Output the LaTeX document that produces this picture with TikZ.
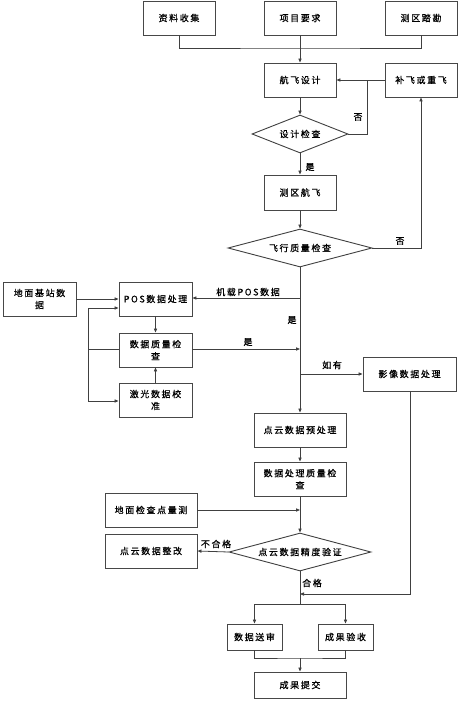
\documentclass[tikz,border=0pt]{standalone}
\usepackage{fontspec}
\newfontfamily\cjk[LetterSpace=18,FakeBold=0.6]{Noto Sans CJK SC}
\usetikzlibrary{shapes.geometric,arrows.meta,shadows}
\tikzset{
  box/.style={draw=black!72,line width=0.9pt,minimum width=72pt,minimum height=34pt,inner sep=0pt,align=center,font=\cjk\fontsize{9}{12}\selectfont,fill=white,
    drop shadow={shadow xshift=0.7pt,shadow yshift=-0.7pt,fill=black!65,opacity=1}},
  dia/.style={draw=black!75,line width=0.9pt,diamond,aspect=3.6,inner sep=0pt,minimum height=38pt,font=\cjk\fontsize{9}{12}\selectfont,fill=white},
  conn/.style={draw=black!75,line width=0.8pt},
  arr/.style={conn,-{Triangle[length=4pt,width=3.2pt]}},
  lab/.style={font=\cjk\fontsize{9}{11}\selectfont,inner sep=0pt}
}
\begin{document}
\begin{tikzpicture}[x=1pt,y=-1pt]
\useasboundingbox (0,0) rectangle (462,703);
% nodes
\node[box] (zl) at (179,18) {资料收集};
\node[box] (xm) at (300,18) {项目要求};
\node[box] (ck) at (421,18) {测区踏勘};
\node[box] (hs) at (300,80) {航飞设计};
\node[box] (bf) at (421,80) {补飞或重飞};
\node[dia,minimum width=96pt] (sj) at (300,134) {设计检查};
\node[box,minimum height=35pt] (cq) at (300,192.5) {测区航飞};
\node[dia,minimum width=144pt] (fx) at (300,248) {飞行质量检查};
\node[box,minimum width=73pt] (jz) at (39.5,299) {地面基站数\\据};
\node[box,minimum width=73pt] (pos) at (155.5,299) {POS数据处理};
\node[box,minimum width=73pt] (zj) at (155.5,350) {数据质量检\\查};
\node[box,minimum width=73pt] (jg) at (155.5,400) {激光数据校\\准};
\node[box,minimum width=93pt] (yx) at (409.5,374) {影像数据处理};
\node[box,minimum width=92pt] (dy) at (300,430) {点云数据预处理};
\node[box,minimum width=92pt] (cl) at (300,479) {数据处理质量检\\查};
\node[box,minimum width=92pt] (dm) at (151,510) {地面检查点量测};
\node[box,minimum width=92pt] (zg) at (151,551) {点云数据整改};
\node[dia,minimum width=142pt] (js) at (300,552) {点云数据精度验证};
\node[box,minimum width=55pt,minimum height=26pt] (ss) at (254.5,637) {数据送审};
\node[box,minimum width=55pt,minimum height=26pt] (ys) at (345.5,637) {成果验收};
\node[box,minimum width=92pt,minimum height=26pt] (tj) at (300,685) {成果提交};
% coordinates
\coordinate (top) at (300,48);
\coordinate (j1) at (367,80);
\coordinate (p1) at (300,298);
\coordinate (p2) at (300,349);
\coordinate (p3) at (300,374);
\coordinate (l1) at (88,308);
\coordinate (l2) at (88,349);
\coordinate (l3) at (88,401);
\coordinate (yb) at (410,594);
\coordinate (m1) at (300,594);
\coordinate (sp) at (300,604);
\coordinate (mg) at (300,658);
\coordinate (gd) at (300,510);
% connectors
\draw[conn] (zl.south) |- (top) -| (ck.south);
\draw[arr] (xm.south) -- (hs.north);
\draw[arr] (bf.west) -- (hs.east);
\draw[conn] (sj.east) -| (j1);
\node[lab] at (358,117) {否};
\draw[arr] (hs.south) -- (sj.north);
\draw[arr] (sj.south) -- (cq.north);
\node[lab] at (310,167) {是};
\draw[arr] (cq.south) -- (fx.north);
\draw[arr] (fx.east) -| (bf.south);
\node[lab] at (400,241) {否};
\draw[arr] (fx.south) -- (dy.north);
\draw[arr] (p1) -- (pos.east |- p1);
\node[lab] at (248,292) {机载POS数据};
\node[lab] at (292,320) {是};
\draw[arr] (jz.east) -- (pos.west);
\draw[conn] (zj.west |- l2) -- (l2);
\draw[arr] (l1) -- (pos.west |- l1);
\draw[arr] (l1) |- (jg.west |- l3);
\draw[arr] (pos.south) -- (zj.north);
\draw[arr] (jg.north) -- (zj.south);
\draw[arr] (zj.east |- p2) -- (p2);
\node[lab] at (248,342) {是};
\draw[arr] (p3) -- (yx.west);
\node[lab] at (332,365) {如有};
\draw[arr] (yx.south -| yb) -- (yb) -- (m1);
\draw[arr] (dy.south) -- (cl.north);
\draw[arr] (cl.south) -- (js.north);
\draw[arr] (dm.east) -- (gd);
\draw[arr] (js.west) -- (zg.east);
\node[lab] at (216,544) {不合格};
\draw[conn] (js.south) -- (sp);
\node[lab] at (312,583) {合格};
\draw[arr] (sp) -| (ss.north);
\draw[arr] (sp) -| (ys.north);
\draw[conn] (ss.south) |- (mg) -| (ys.south);
\draw[arr] (mg) -- (tj.north);
\end{tikzpicture}
\end{document}
